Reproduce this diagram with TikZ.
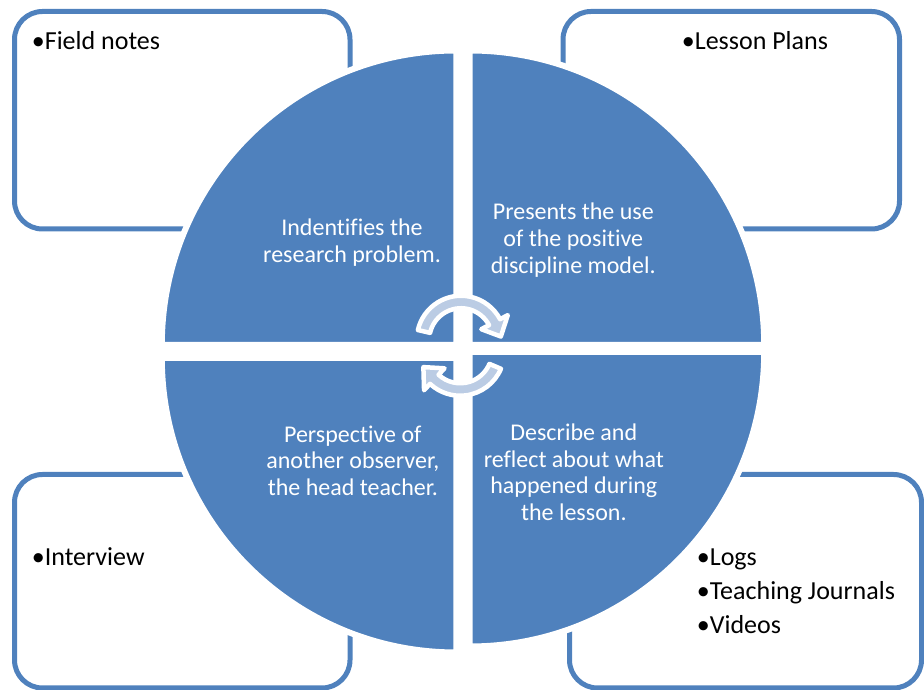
\documentclass[tikz,border=0pt]{standalone}
\usepackage{fontspec}
\setmainfont{Carlito}[Ligatures=NoCommon]
\definecolor{quadblue}{HTML}{4F81BD}
\definecolor{arrowfill}{RGB}{187,204,228}
\tikzset{
  srcbox/.style={draw=quadblue, line width=5pt, rounded corners=28pt},
  quad/.style={fill=quadblue, draw=white, line width=6pt},
  quadtext/.style={text=white, font=\fontsize{24}{26.7}\selectfont, align=center, inner sep=0pt, anchor=base},
  boxtext/.style={font=\fontsize{26}{34}\selectfont, align=left, inner sep=0pt, anchor=base west},
  cyclearrow/.style={fill=arrowfill, draw=white, line width=4.5pt, line join=round}
}

\begin{document}
\begin{tikzpicture}[x=1pt,y=1pt]
                \useasboundingbox (0,0) rectangle (924,690);

                %% source boxes
                \draw[srcbox] (14.5,461) rectangle (350,678.5);
                \draw[srcbox] (563,461) rectangle (899.5,678.5);
                \draw[srcbox] (14.5,2) rectangle (350,215.5);
                \draw[srcbox] (569.5,2) rectangle (921.5,215.5);

                \node[boxtext] (fieldnotes) at (31.7,640.7) {•Field notes};
                \node[boxtext] (lessonplans) at (681.7,640.7) {•Lesson Plans};
                \node[boxtext] (interview) at (31.7,124) {•Interview};
                \node[boxtext] (logs) at (696.7,56) {•Logs\\•Teaching Journals\\•Videos};

                %% quadrants
                \filldraw[quad] (456.3,345) -- (161.8,345) arc[start angle=180,end angle=90,radius=294.5] -- cycle;
                \filldraw[quad] (469.7,345) -- (764.2,345) arc[start angle=0,end angle=90,radius=294.5] -- cycle;
                \filldraw[quad] (456.3,332) -- (161.8,332) arc[start angle=180,end angle=270,radius=294.5] -- cycle;
                \filldraw[quad] (469.7,338) -- (764.2,338) arc[start angle=0,end angle=-90,radius=294.5] -- cycle;

                \node[quadtext] (problem) at (352,427.7) {Indentifies the\\research problem.};
                \node[quadtext] (model) at (573.3,416.7) {Presents the use\\of the positive\\discipline model.};
                \node[quadtext] (observer) at (352.8,194.3) {Perspective of\\another observer,\\the head teacher.};
                \node[quadtext] (lesson) at (573.8,169.3) {Describe and\\reflect about what\\happened during\\the lesson.};

                %% cycle arrows
                \begin{scope}[shift={(461,350)}]
                \filldraw[cyclearrow] (167:44.25) arc[start angle=167,end angle=28,radius=44.25]
                  -- (28:53) -- (5:40) -- (28:23) -- (28:31.75)
                  arc[start angle=28,end angle=167,radius=31.75] -- cycle;
                \end{scope}
                \begin{scope}[shift={(460.2,338.5)}]
                \filldraw[cyclearrow] (-23:44.25) arc[start angle=-23,end angle=-133,radius=44.25]
                  -- (-133:53) -- (-157:40) -- (-133:23) -- (-133:31.75)
                  arc[start angle=-133,end angle=-23,radius=31.75] -- cycle;
                \end{scope}

            \end{tikzpicture}
\end{document}
